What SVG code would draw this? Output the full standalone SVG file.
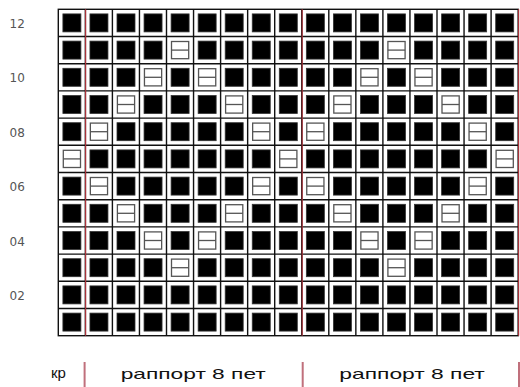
<svg xmlns="http://www.w3.org/2000/svg" xmlns:xlink="http://www.w3.org/1999/xlink" width="520" height="387" viewBox="0 0 520 387">
<style>
.num{font-family:"DejaVu Sans","Noto Sans",sans-serif;font-size:12px;fill:#555}
.lbl{font-family:"Liberation Sans",Arial,sans-serif;font-size:15px;fill:#111}
.grid{stroke:#111;stroke-width:1.4;fill:none}
.red{stroke:#a8323a;stroke-width:1.2}
.mark{stroke:#c0707c;stroke-width:2}
</style>
<defs>
<g id="k"><rect x="4.6" y="4.6" width="18" height="18" fill="#000" stroke="#333" stroke-width="0.8"/></g>
<g id="p"><rect x="5" y="5" width="17.2" height="17.2" fill="#fff" stroke="#555" stroke-width="1.3"/><line x1="5" y1="13.6" x2="22.2" y2="13.6" stroke="#555" stroke-width="1.3"/></g>
</defs>
<rect width="520" height="387" fill="#fff"/>
<g id="labels">
<text class="num" x="9.5" y="27.5">12</text>
<text class="num" x="9.5" y="81.5">10</text>
<text class="num" x="9.5" y="136.5">08</text>
<text class="num" x="9.5" y="190.5">06</text>
<text class="num" x="9.5" y="245.5">04</text>
<text class="num" x="9.5" y="299.5">02</text>
</g>
<g id="cells">
<g id="row12" transform="translate(58.3,9.3)">
<use href="#k" x="0"/><use href="#k" x="27.05"/><use href="#k" x="54.1"/><use href="#k" x="81.15"/><use href="#k" x="108.2"/><use href="#k" x="135.25"/><use href="#k" x="162.3"/><use href="#k" x="189.35"/><use href="#k" x="216.4"/><use href="#k" x="243.45"/><use href="#k" x="270.5"/><use href="#k" x="297.55"/><use href="#k" x="324.6"/><use href="#k" x="351.65"/><use href="#k" x="378.7"/><use href="#k" x="405.75"/><use href="#k" x="432.8"/>
</g>
<g id="row11" transform="translate(58.3,36.5)">
<use href="#k" x="0"/><use href="#k" x="27.05"/><use href="#k" x="54.1"/><use href="#k" x="81.15"/><use href="#p" x="108.2"/><use href="#k" x="135.25"/><use href="#k" x="162.3"/><use href="#k" x="189.35"/><use href="#k" x="216.4"/><use href="#k" x="243.45"/><use href="#k" x="270.5"/><use href="#k" x="297.55"/><use href="#p" x="324.6"/><use href="#k" x="351.65"/><use href="#k" x="378.7"/><use href="#k" x="405.75"/><use href="#k" x="432.8"/>
</g>
<g id="row10" transform="translate(58.3,63.7)">
<use href="#k" x="0"/><use href="#k" x="27.05"/><use href="#k" x="54.1"/><use href="#p" x="81.15"/><use href="#k" x="108.2"/><use href="#p" x="135.25"/><use href="#k" x="162.3"/><use href="#k" x="189.35"/><use href="#k" x="216.4"/><use href="#k" x="243.45"/><use href="#k" x="270.5"/><use href="#p" x="297.55"/><use href="#k" x="324.6"/><use href="#p" x="351.65"/><use href="#k" x="378.7"/><use href="#k" x="405.75"/><use href="#k" x="432.8"/>
</g>
<g id="row9" transform="translate(58.3,90.9)">
<use href="#k" x="0"/><use href="#k" x="27.05"/><use href="#p" x="54.1"/><use href="#k" x="81.15"/><use href="#k" x="108.2"/><use href="#k" x="135.25"/><use href="#p" x="162.3"/><use href="#k" x="189.35"/><use href="#k" x="216.4"/><use href="#k" x="243.45"/><use href="#p" x="270.5"/><use href="#k" x="297.55"/><use href="#k" x="324.6"/><use href="#k" x="351.65"/><use href="#p" x="378.7"/><use href="#k" x="405.75"/><use href="#k" x="432.8"/>
</g>
<g id="row8" transform="translate(58.3,118.1)">
<use href="#k" x="0"/><use href="#p" x="27.05"/><use href="#k" x="54.1"/><use href="#k" x="81.15"/><use href="#k" x="108.2"/><use href="#k" x="135.25"/><use href="#k" x="162.3"/><use href="#p" x="189.35"/><use href="#k" x="216.4"/><use href="#p" x="243.45"/><use href="#k" x="270.5"/><use href="#k" x="297.55"/><use href="#k" x="324.6"/><use href="#k" x="351.65"/><use href="#k" x="378.7"/><use href="#p" x="405.75"/><use href="#k" x="432.8"/>
</g>
<g id="row7" transform="translate(58.3,145.3)">
<use href="#p" x="0"/><use href="#k" x="27.05"/><use href="#k" x="54.1"/><use href="#k" x="81.15"/><use href="#k" x="108.2"/><use href="#k" x="135.25"/><use href="#k" x="162.3"/><use href="#k" x="189.35"/><use href="#p" x="216.4"/><use href="#k" x="243.45"/><use href="#k" x="270.5"/><use href="#k" x="297.55"/><use href="#k" x="324.6"/><use href="#k" x="351.65"/><use href="#k" x="378.7"/><use href="#k" x="405.75"/><use href="#p" x="432.8"/>
</g>
<g id="row6" transform="translate(58.3,172.5)">
<use href="#k" x="0"/><use href="#p" x="27.05"/><use href="#k" x="54.1"/><use href="#k" x="81.15"/><use href="#k" x="108.2"/><use href="#k" x="135.25"/><use href="#k" x="162.3"/><use href="#p" x="189.35"/><use href="#k" x="216.4"/><use href="#p" x="243.45"/><use href="#k" x="270.5"/><use href="#k" x="297.55"/><use href="#k" x="324.6"/><use href="#k" x="351.65"/><use href="#k" x="378.7"/><use href="#p" x="405.75"/><use href="#k" x="432.8"/>
</g>
<g id="row5" transform="translate(58.3,199.7)">
<use href="#k" x="0"/><use href="#k" x="27.05"/><use href="#p" x="54.1"/><use href="#k" x="81.15"/><use href="#k" x="108.2"/><use href="#k" x="135.25"/><use href="#p" x="162.3"/><use href="#k" x="189.35"/><use href="#k" x="216.4"/><use href="#k" x="243.45"/><use href="#p" x="270.5"/><use href="#k" x="297.55"/><use href="#k" x="324.6"/><use href="#k" x="351.65"/><use href="#p" x="378.7"/><use href="#k" x="405.75"/><use href="#k" x="432.8"/>
</g>
<g id="row4" transform="translate(58.3,226.9)">
<use href="#k" x="0"/><use href="#k" x="27.05"/><use href="#k" x="54.1"/><use href="#p" x="81.15"/><use href="#k" x="108.2"/><use href="#p" x="135.25"/><use href="#k" x="162.3"/><use href="#k" x="189.35"/><use href="#k" x="216.4"/><use href="#k" x="243.45"/><use href="#k" x="270.5"/><use href="#p" x="297.55"/><use href="#k" x="324.6"/><use href="#p" x="351.65"/><use href="#k" x="378.7"/><use href="#k" x="405.75"/><use href="#k" x="432.8"/>
</g>
<g id="row3" transform="translate(58.3,254.1)">
<use href="#k" x="0"/><use href="#k" x="27.05"/><use href="#k" x="54.1"/><use href="#k" x="81.15"/><use href="#p" x="108.2"/><use href="#k" x="135.25"/><use href="#k" x="162.3"/><use href="#k" x="189.35"/><use href="#k" x="216.4"/><use href="#k" x="243.45"/><use href="#k" x="270.5"/><use href="#k" x="297.55"/><use href="#p" x="324.6"/><use href="#k" x="351.65"/><use href="#k" x="378.7"/><use href="#k" x="405.75"/><use href="#k" x="432.8"/>
</g>
<g id="row2" transform="translate(58.3,281.3)">
<use href="#k" x="0"/><use href="#k" x="27.05"/><use href="#k" x="54.1"/><use href="#k" x="81.15"/><use href="#k" x="108.2"/><use href="#k" x="135.25"/><use href="#k" x="162.3"/><use href="#k" x="189.35"/><use href="#k" x="216.4"/><use href="#k" x="243.45"/><use href="#k" x="270.5"/><use href="#k" x="297.55"/><use href="#k" x="324.6"/><use href="#k" x="351.65"/><use href="#k" x="378.7"/><use href="#k" x="405.75"/><use href="#k" x="432.8"/>
</g>
<g id="row1" transform="translate(58.3,308.5)">
<use href="#k" x="0"/><use href="#k" x="27.05"/><use href="#k" x="54.1"/><use href="#k" x="81.15"/><use href="#k" x="108.2"/><use href="#k" x="135.25"/><use href="#k" x="162.3"/><use href="#k" x="189.35"/><use href="#k" x="216.4"/><use href="#k" x="243.45"/><use href="#k" x="270.5"/><use href="#k" x="297.55"/><use href="#k" x="324.6"/><use href="#k" x="351.65"/><use href="#k" x="378.7"/><use href="#k" x="405.75"/><use href="#k" x="432.8"/>
</g>
</g>
<g id="gridlines" class="grid">
<rect x="58.3" y="9.3" width="459.85" height="326.4"/>
<path d="M85.35 9.3V335.7M112.4 9.3V335.7M139.45 9.3V335.7M166.5 9.3V335.7M193.55 9.3V335.7M220.6 9.3V335.7M247.65 9.3V335.7M274.7 9.3V335.7M301.75 9.3V335.7M328.8 9.3V335.7M355.85 9.3V335.7M382.9 9.3V335.7M409.95 9.3V335.7M437 9.3V335.7M464.05 9.3V335.7M491.1 9.3V335.7"/>
<path d="M58.3 36.5H518.15M58.3 63.7H518.15M58.3 90.9H518.15M58.3 118.1H518.15M58.3 145.3H518.15M58.3 172.5H518.15M58.3 199.7H518.15M58.3 226.9H518.15M58.3 254.1H518.15M58.3 281.3H518.15M58.3 308.5H518.15"/>
</g>
<g id="repeat-lines">
<line class="red" x1="85.6" y1="9.3" x2="85.6" y2="335.7"/>
<line class="red" x1="302.2" y1="9.3" x2="302.2" y2="335.7"/>
<line class="red" x1="518.6" y1="9.3" x2="518.6" y2="335.7"/>
<line class="mark" x1="84.6" y1="362" x2="84.6" y2="387"/>
<line class="mark" x1="302.7" y1="362" x2="302.7" y2="387"/>
<line class="mark" x1="519" y1="362" x2="519" y2="387"/>
</g>
<g id="footer">
<text class="lbl" x="51" y="378" font-size="14">кр</text>
<text class="lbl" x="120.7" y="378.5" textLength="145" lengthAdjust="spacingAndGlyphs">раппорт 8 пет</text>
<text class="lbl" x="339.3" y="378.5" textLength="145.5" lengthAdjust="spacingAndGlyphs">раппорт 8 пет</text>
</g>
</svg>
